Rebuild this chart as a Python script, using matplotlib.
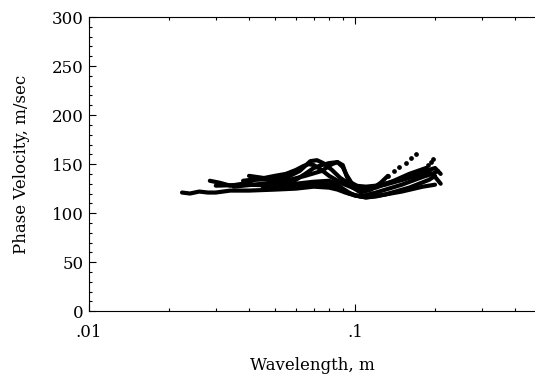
import numpy as np
import matplotlib.pyplot as plt
from matplotlib.ticker import FixedLocator, LogLocator, MultipleLocator, NullFormatter

# dispersion curves: wavelength (m), phase velocity (m/sec)
lam_a = [0.0224, 0.024, 0.026, 0.028, 0.030, 0.034, 0.040, 0.050, 0.060, 0.070, 0.080, 0.086, 0.092, 0.100, 0.110, 0.120, 0.130, 0.150, 0.180, 0.200]
vel_a = [121, 120, 122, 121, 121, 123, 123, 124, 125, 127, 126, 124, 121, 118, 116, 117, 119, 122, 127, 129]

lam_b = [0.0285, 0.031, 0.034, 0.038, 0.042, 0.050, 0.056, 0.062, 0.068, 0.072, 0.076, 0.082, 0.088, 0.095, 0.100, 0.110, 0.120, 0.150, 0.180, 0.200, 0.210]
vel_b = [133, 131, 128, 130, 134, 135, 137, 143, 153, 154, 151, 144, 136, 130, 128, 127, 128, 134, 142, 146, 140]

lam_c = [0.035, 0.045, 0.055, 0.065, 0.075, 0.082, 0.086, 0.090, 0.093, 0.097, 0.105, 0.115, 0.125, 0.133]
vel_c = [127, 130, 133, 138, 143, 150, 152, 149, 138, 127, 121, 124, 131, 138]
lam_c_dot = [0.133, 0.140, 0.147, 0.155, 0.162, 0.170]
vel_c_dot = [138, 143, 147, 151, 156, 160]

lam_d = [0.040, 0.045, 0.050, 0.055, 0.060, 0.065, 0.070, 0.075, 0.080, 0.086, 0.090, 0.093, 0.097, 0.103, 0.110, 0.130, 0.160, 0.190, 0.200, 0.210]
vel_d = [138, 136, 133, 130, 134, 140, 146, 149, 151, 152, 147, 139, 131, 127, 125, 129, 136, 142, 137, 130]

lam_e = [0.030, 0.040, 0.050, 0.060, 0.070, 0.080, 0.085, 0.090, 0.095, 0.100, 0.110, 0.130, 0.160, 0.190, 0.200]
vel_e = [128, 129, 128, 130, 132, 133, 130, 125, 121, 118, 116, 119, 126, 134, 138]

lam_f = [0.045, 0.055, 0.065, 0.075, 0.085, 0.090, 0.095, 0.105, 0.120, 0.150, 0.180, 0.195, 0.205]
vel_f = [125, 126, 128, 130, 128, 124, 120, 117, 121, 129, 137, 140, 143]

lam_g = [0.038, 0.044, 0.050, 0.055, 0.060, 0.064, 0.067, 0.070, 0.074, 0.080, 0.090, 0.100, 0.110, 0.120, 0.140, 0.160, 0.185]
vel_g = [133, 135, 138, 140, 144, 148, 150, 149, 145, 138, 130, 125, 124, 126, 133, 140, 146]
lam_g_dot = [0.185, 0.189, 0.193, 0.197]
vel_g_dot = [146, 149, 152, 155]

solid = [(lam_a, vel_a), (lam_b, vel_b), (lam_c, vel_c), (lam_d, vel_d),
         (lam_e, vel_e), (lam_f, vel_f), (lam_g, vel_g)]
dotted = [(lam_c_dot, vel_c_dot), (lam_g_dot, vel_g_dot)]

plt.rcParams['font.family'] = ['DejaVu Serif']

fig = plt.figure(figsize=(5.35, 3.79), dpi=100)
ax = fig.add_axes([0.166, 0.179, 0.834, 0.776])

for lam, vel in solid:
    ax.plot(lam, vel, color='black', lw=3.0, solid_joinstyle='round', solid_capstyle='round')
for lam, vel in dotted:
    ax.plot(lam, vel, color='black', ls='none', marker='o', ms=2.4)

ax.set_xscale('log')
ax.set_xlim(0.01, 0.475)
ax.set_ylim(0, 300)

ax.xaxis.set_major_locator(FixedLocator([0.01, 0.1]))
ax.set_xticklabels(['.01', '.1'])
ax.xaxis.set_minor_locator(LogLocator(base=10, subs=np.arange(2, 10)))
ax.xaxis.set_minor_formatter(NullFormatter())
ax.yaxis.set_major_locator(MultipleLocator(50))
ax.yaxis.set_minor_locator(MultipleLocator(10))

ax.tick_params(which='both', direction='in', top=True, right=False, labelsize=12, width=0.8)
ax.tick_params(which='major', length=5)
ax.tick_params(which='minor', length=2.5)
ax.tick_params(axis='x', pad=9)
ax.spines['right'].set_visible(False)

ax.set_xlabel('Wavelength, m', fontsize=12, labelpad=12)
ax.set_ylabel('Phase Velocity, m/sec', fontsize=12, labelpad=16)

fig.savefig('out.png', dpi=100)
